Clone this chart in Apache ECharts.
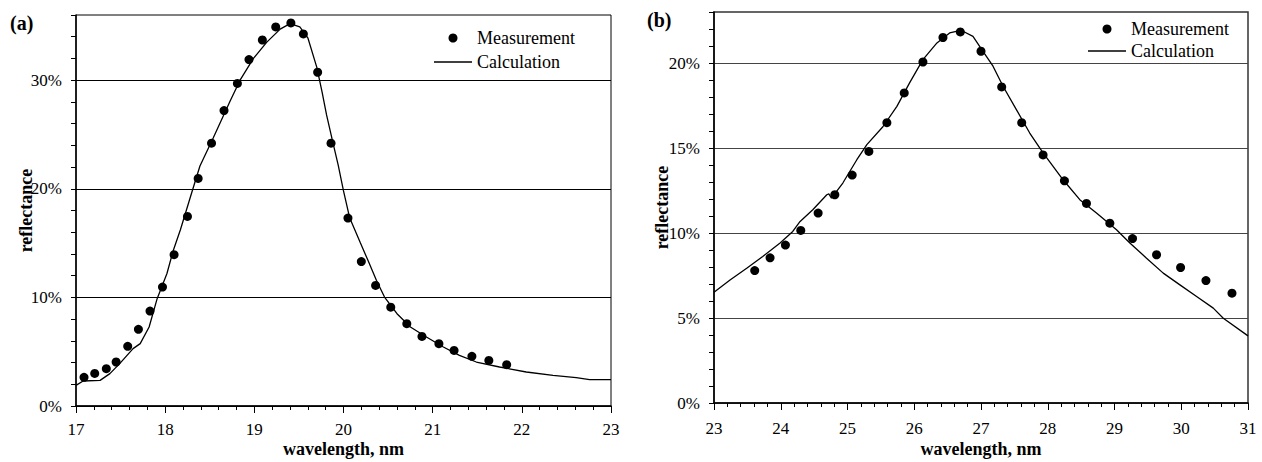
<!DOCTYPE html>
<html>
<head>
<meta charset="utf-8">
<script src="https://cdn.jsdelivr.net/npm/echarts@6/dist/echarts.min.js"></script>
<style>html,body{margin:0;padding:0;background:#fff}#c{width:1262px;height:462px}</style>
</head>
<body>
<div id="c"></div>
<script>
// Panel (a): wavelength 17-23 nm
const measA_x = [17.09,17.21,17.34,17.45,17.58,17.70,17.83,17.97,18.10,18.25,18.37,18.52,18.66,18.81,18.94,19.09,19.24,19.41,19.55,19.71,19.86,20.05,20.20,20.36,20.53,20.71,20.88,21.07,21.24,21.44,21.63,21.83];
const measA_y = [2.64,3.0,3.44,4.05,5.49,7.06,8.74,10.95,13.93,17.45,20.95,24.2,27.2,29.7,31.9,33.7,34.9,35.27,34.26,30.73,24.2,17.3,13.3,11.1,9.1,7.58,6.41,5.74,5.12,4.57,4.2,3.8];
const calcA_x = [17.0,17.08,17.27,17.38,17.49,17.64,17.72,17.82,17.91,18.02,18.09,18.17,18.30,18.39,18.54,18.73,18.84,18.99,19.14,19.29,19.40,19.51,19.60,19.70,19.76,19.81,19.88,19.94,20.0,20.07,20.19,20.28,20.37,20.46,20.60,20.75,20.93,21.12,21.30,21.49,21.75,22.05,22.35,22.61,22.76,23.0];
const calcA_y = [1.9,2.3,2.36,2.98,3.9,5.28,5.74,7.27,9.88,12.2,14.3,16.2,19.7,22.1,24.7,28.1,30.0,32.0,33.5,34.7,35.2,34.9,33.9,31.2,28.9,26.8,24.3,22.2,19.8,17.3,15.0,13.3,11.56,10.03,8.5,7.27,6.35,5.43,4.66,4.05,3.59,3.13,2.82,2.61,2.43,2.43];

// Panel (b): wavelength 23-31 nm
const measB_x = [23.61,23.84,24.07,24.30,24.56,24.81,25.07,25.32,25.59,25.85,26.13,26.43,26.69,27.00,27.31,27.61,27.93,28.25,28.58,28.93,29.27,29.63,29.99,30.37,30.76];
const measB_y = [7.79,8.54,9.29,10.15,11.17,12.25,13.41,14.8,16.49,18.24,20.06,21.5,21.83,20.69,18.59,16.49,14.59,13.07,11.74,10.58,9.67,8.72,7.97,7.20,6.46];
const calcB_x = [23.0,23.24,23.49,23.73,23.99,24.18,24.29,24.48,24.69,24.72,24.76,24.93,25.14,25.29,25.53,25.74,25.93,26.13,26.34,26.53,26.68,26.73,26.88,27.03,27.18,27.33,27.53,27.73,27.93,28.23,28.48,28.73,29.03,29.23,29.48,29.73,29.98,30.23,30.48,30.63,31.0];
const calcB_y = [6.52,7.24,7.93,8.62,9.41,10.09,10.68,11.37,12.25,12.3,12.05,12.94,14.31,15.2,16.25,17.45,18.83,20.2,21.18,21.77,21.9,21.87,21.57,20.69,19.81,18.63,17.26,15.88,14.71,13.13,11.96,11.17,10.19,9.41,8.52,7.64,6.95,6.26,5.58,4.99,3.95];

const panelLabels = ['(a)', '(b)'];
const seriesNames = ['Measurement', 'Calculation'];
const xTitle = 'wavelength, nm';
const yTitle = 'reflectance';

const zip = (xs, ys) => xs.map((x, i) => [x, ys[i]]);
const FONT = '"Liberation Serif", "Times New Roman", serif';

function xAxisCfg(gi, min, max, gap, labelMargin) {
  return {
    type: 'value', gridIndex: gi, min: min, max: max, interval: 1,
    name: xTitle, nameLocation: 'middle', nameGap: gap, nameMoveOverlap: false,
    nameTextStyle: { fontFamily: FONT, fontWeight: 'bold', fontSize: 18, color: '#000' },
    axisLine: { show: true, lineStyle: { color: '#000', width: 1.5 } },
    axisTick: { show: true, inside: false, length: 7, lineStyle: { color: '#000', width: 1 } },
    minorTick: { show: true, splitNumber: 5, length: 4, lineStyle: { color: '#000', width: 1 } },
    axisLabel: { fontFamily: FONT, fontSize: 17, color: '#000', margin: labelMargin },
    splitLine: { show: false }
  };
}
function yAxisCfg(gi, max, step, major, gap, gridColor) {
  const colors = [];
  for (let i = 0; i < major / step; i++) colors.push(i === 0 ? gridColor : 'rgba(0,0,0,0)');
  return {
    type: 'value', gridIndex: gi, min: 0, max: max, interval: step,
    name: yTitle, nameLocation: 'middle', nameGap: gap, nameRotate: 90, nameMoveOverlap: false,
    nameTextStyle: { fontFamily: FONT, fontWeight: 'bold', fontSize: 18, color: '#000' },
    axisLine: { show: true, lineStyle: { color: '#000', width: 1.5 } },
    axisTick: { show: true, inside: false, length: 5, lineStyle: { color: '#000', width: 1 } },
    axisLabel: { fontFamily: FONT, fontSize: 17, color: '#000', margin: 14,
      formatter: v => (Math.abs(v % major) < 1e-9 ? v + '%' : '') },
    splitLine: { show: true, lineStyle: { color: colors, width: 1 } }
  };
}
function legendCfg(left, top, gap) {
  return {
    orient: 'vertical', left: left, top: top, itemGap: gap, padding: 0,
    itemWidth: 38, itemHeight: 9, selectedMode: false,
    textStyle: { fontFamily: FONT, fontSize: 18, color: '#000' },
    data: [
      { name: seriesNames[0], icon: 'circle' },
      { name: seriesNames[1], icon: 'path://M0,0L38,0L38,1.3L0,1.3Z' }
    ]
  };
}
function scatter(xi, data) {
  return { name: seriesNames[0], type: 'scatter', xAxisIndex: xi, yAxisIndex: xi,
    data: data, symbol: 'circle', symbolSize: 9, itemStyle: { color: '#000', opacity: 1 }, z: 5, silent: true };
}
function line(xi, data) {
  return { name: seriesNames[1], type: 'line', xAxisIndex: xi, yAxisIndex: xi,
    data: data, symbol: 'none', showSymbol: false, smooth: false,
    lineStyle: { color: '#000', width: 1.3 }, itemStyle: { color: '#000' }, z: 4, silent: true };
}

const chart = echarts.init(document.getElementById('c'), null, { renderer: 'svg' });
chart.setOption({
  animation: false,
  backgroundColor: '#fff',
  title: [
    { text: panelLabels[0], left: 10, top: 13, padding: 0,
      textStyle: { fontFamily: FONT, fontWeight: 'bold', fontSize: 20, color: '#000' } },
    { text: panelLabels[1], left: 647, top: 10, padding: 0,
      textStyle: { fontFamily: FONT, fontWeight: 'bold', fontSize: 20, color: '#000' } }
  ],
  legend: [ legendCfg(434, 29, 6), legendCfg(1088, 20, 4) ],
  grid: [
    { left: 76, top: 15, right: 651, bottom: 56, show: true, borderColor: '#000', borderWidth: 1,
      containLabel: false, outerBoundsMode: 'none' },
    { left: 714, top: 12, right: 14, bottom: 59, show: true, borderColor: '#333', borderWidth: 1.5,
      containLabel: false, outerBoundsMode: 'none' }
  ],
  xAxis: [ xAxisCfg(0, 17, 23, 34, 15), xAxisCfg(1, 23, 31, 37, 17) ],
  yAxis: [ yAxisCfg(0, 36, 2, 10, 41, '#000'), yAxisCfg(1, 23, 1, 5, 43, '#444') ],
  series: [
    line(0, zip(calcA_x, calcA_y)),
    scatter(0, zip(measA_x, measA_y)),
    line(1, zip(calcB_x, calcB_y)),
    scatter(1, zip(measB_x, measB_y))
  ]
});
</script>
</body>
</html>
